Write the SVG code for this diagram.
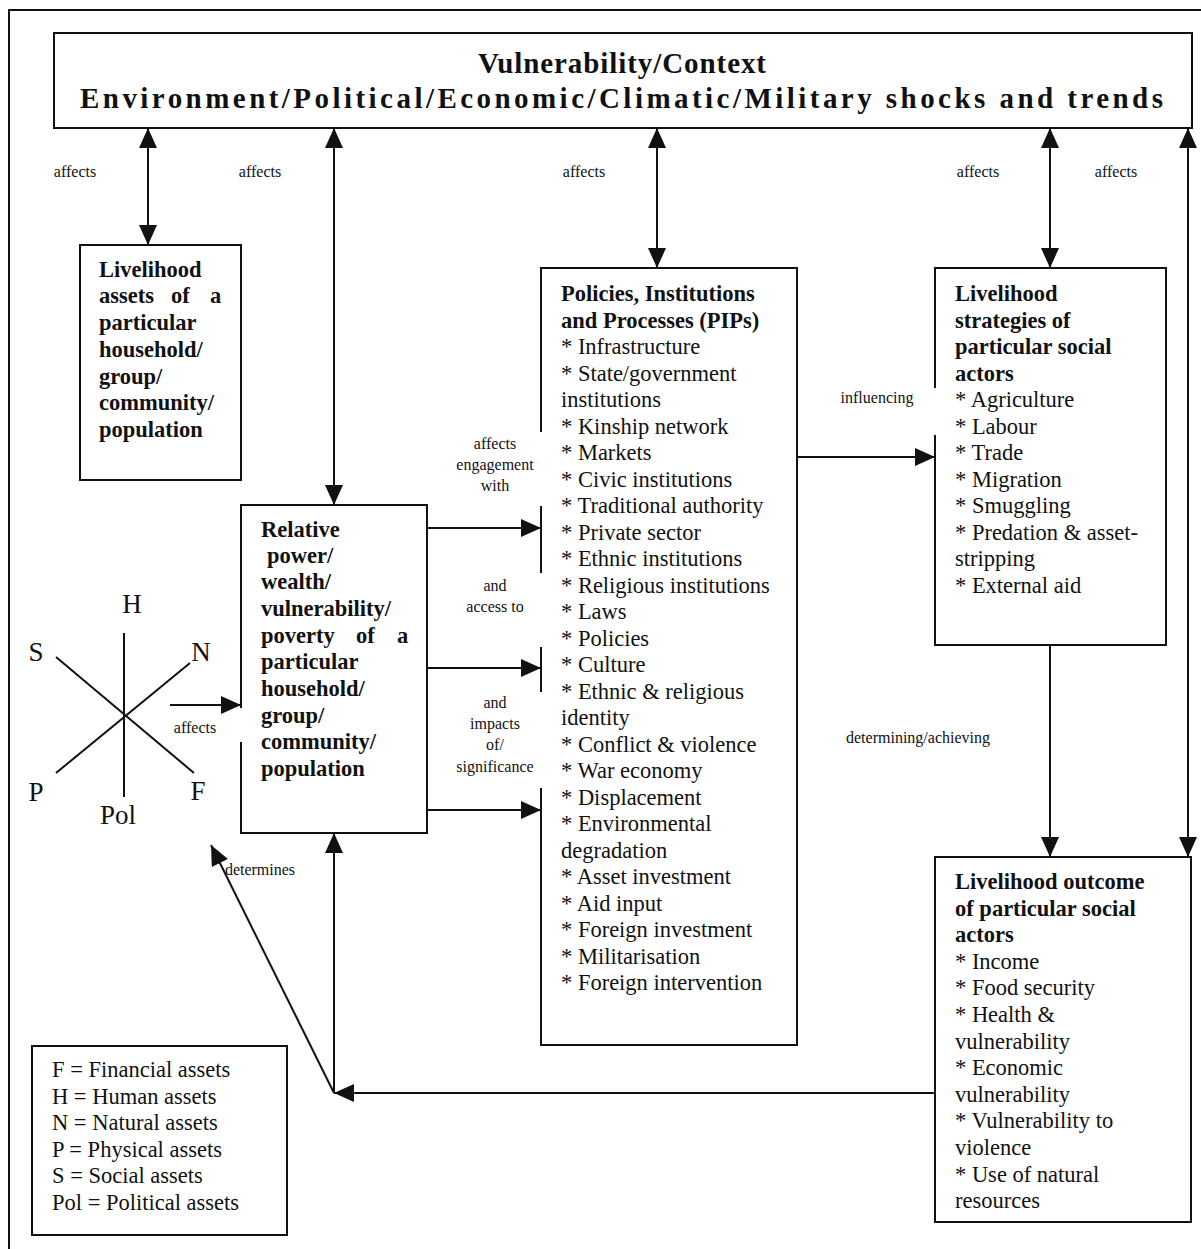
<svg xmlns="http://www.w3.org/2000/svg" width="1201" height="1249" viewBox="0 0 1201 1249">
<style>
  .box { fill: none; stroke: #111; stroke-width: 2; }
  .ln { fill: none; stroke: #111; stroke-width: 2; }
  .t { font-family: "Liberation Serif", "Times New Roman", serif; font-size: 22.5px; fill: #111; }
  .b { font-weight: bold; }
  .lbl { font-family: "Liberation Serif", "Times New Roman", serif; font-size: 16px; fill: #111; text-anchor: middle; }
  .star { font-family: "Liberation Serif", "Times New Roman", serif; font-size: 27px; fill: #111; text-anchor: middle; }
  .title { font-family: "Liberation Serif", "Times New Roman", serif; font-size: 29px; font-weight: bold; fill: #111; }
</style>
<defs>
  <marker id="ah" markerUnits="userSpaceOnUse" markerWidth="20" markerHeight="18" refX="20" refY="9" orient="auto-start-reverse">
    <path d="M0,0 L20,9 L0,18 Z" fill="#111"/>
  </marker>
</defs>
<rect width="1201" height="1249" fill="#fff"/>
<path class="ln" d="M9,1249 V10 H1201"/>

<g id="context">
  <rect class="box" x="54" y="33" width="1138" height="95"/>
  <text class="title" x="478" y="73" textLength="288" lengthAdjust="spacing">Vulnerability/Context</text>
  <text class="title" x="80" y="108" textLength="1083" lengthAdjust="spacing">Environment/Political/Economic/Climatic/Military shocks and trends</text>
</g>

<g id="assets">
  <rect class="box" x="80" y="245" width="161" height="235"/>
  <text class="t b" x="99" y="277">Livelihood</text>
  <text class="t b" y="303"><tspan x="99">assets</tspan><tspan x="171">of</tspan><tspan x="210">a</tspan></text>
  <text class="t b" x="99" y="330">particular</text>
  <text class="t b" x="99" y="357">household/</text>
  <text class="t b" x="99" y="384">group/</text>
  <text class="t b" x="99" y="410">community/</text>
  <text class="t b" x="99" y="437">population</text>
</g>

<g id="relative">
  <path class="box" d="M241,708 V505 H427 V833 H241 V742"/>
  <text class="t b" x="261" y="537">Relative</text>
  <text class="t b" x="267" y="563">power/</text>
  <text class="t b" x="261" y="589">wealth/</text>
  <text class="t b" x="261" y="616">vulnerability/</text>
  <text class="t b" y="643"><tspan x="261">poverty</tspan><tspan x="356">of</tspan><tspan x="397">a</tspan></text>
  <text class="t b" x="261" y="669">particular</text>
  <text class="t b" x="261" y="696">household/</text>
  <text class="t b" x="261" y="723">group/</text>
  <text class="t b" x="261" y="749">community/</text>
  <text class="t b" x="261" y="776">population</text>
</g>

<g id="pips">
  <path class="box" d="M541,432 V268 H797 V1045 H541 V788 M541,506 V573 M541,647 V692"/>
  <text class="t b" x="561" y="301">Policies, Institutions</text>
  <text class="t b" x="561" y="327.5">and Processes (PIPs)</text>
  <text class="t" x="561" y="354">* Infrastructure</text>
  <text class="t" x="561" y="380.5">* State/government</text>
  <text class="t" x="561" y="407">institutions</text>
  <text class="t" x="561" y="433.5">* Kinship network</text>
  <text class="t" x="561" y="460">* Markets</text>
  <text class="t" x="561" y="486.5">* Civic institutions</text>
  <text class="t" x="561" y="513">* Traditional authority</text>
  <text class="t" x="561" y="539.5">* Private sector</text>
  <text class="t" x="561" y="566">* Ethnic institutions</text>
  <text class="t" x="561" y="592.5">* Religious institutions</text>
  <text class="t" x="561" y="619">* Laws</text>
  <text class="t" x="561" y="645.5">* Policies</text>
  <text class="t" x="561" y="672">* Culture</text>
  <text class="t" x="561" y="698.5">* Ethnic &amp; religious</text>
  <text class="t" x="561" y="725">identity</text>
  <text class="t" x="561" y="751.5">* Conflict &amp; violence</text>
  <text class="t" x="561" y="778">* War economy</text>
  <text class="t" x="561" y="804.5">* Displacement</text>
  <text class="t" x="561" y="831">* Environmental</text>
  <text class="t" x="561" y="857.5">degradation</text>
  <text class="t" x="561" y="884">* Asset investment</text>
  <text class="t" x="561" y="910.5">* Aid input</text>
  <text class="t" x="561" y="937">* Foreign investment</text>
  <text class="t" x="561" y="963.5">* Militarisation</text>
  <text class="t" x="561" y="990">* Foreign intervention</text>
</g>

<g id="strategies">
  <path class="box" d="M935,388 V268 H1166 V645 H935 V435"/>
  <text class="t b" x="955" y="301">Livelihood</text>
  <text class="t b" x="955" y="327.5">strategies of</text>
  <text class="t b" x="955" y="354">particular social</text>
  <text class="t b" x="955" y="380.5">actors</text>
  <text class="t" x="955" y="407">* Agriculture</text>
  <text class="t" x="955" y="433.5">* Labour</text>
  <text class="t" x="955" y="460">* Trade</text>
  <text class="t" x="955" y="486.5">* Migration</text>
  <text class="t" x="955" y="513">* Smuggling</text>
  <text class="t" x="955" y="539.5">* Predation &amp; asset-</text>
  <text class="t" x="955" y="566">stripping</text>
  <text class="t" x="955" y="592.5">* External aid</text>
</g>

<g id="outcome">
  <rect class="box" x="935" y="857" width="256" height="365"/>
  <text class="t b" x="955" y="889">Livelihood outcome</text>
  <text class="t b" x="955" y="915.6">of particular social</text>
  <text class="t b" x="955" y="942.2">actors</text>
  <text class="t" x="955" y="968.8">* Income</text>
  <text class="t" x="955" y="995.4">* Food security</text>
  <text class="t" x="955" y="1022">* Health &amp;</text>
  <text class="t" x="955" y="1048.6">vulnerability</text>
  <text class="t" x="955" y="1075.2">* Economic</text>
  <text class="t" x="955" y="1101.8">vulnerability</text>
  <text class="t" x="955" y="1128.4">* Vulnerability to</text>
  <text class="t" x="955" y="1155">violence</text>
  <text class="t" x="955" y="1181.6">* Use of natural</text>
  <text class="t" x="955" y="1208.2">resources</text>
</g>

<g id="asset-star">
  <path class="ln" d="M124,633 V797 M56,657 L194,773 M56,773 L190,663"/>
  <text class="star" x="132" y="613">H</text>
  <text class="star" x="36" y="661">S</text>
  <text class="star" x="201" y="661">N</text>
  <text class="star" x="36" y="801">P</text>
  <text class="star" x="118" y="824">Pol</text>
  <text class="star" x="198" y="800">F</text>
</g>

<g id="legend">
  <rect class="box" x="32" y="1046" width="255" height="189"/>
  <text class="t" x="52" y="1077">F = Financial assets</text>
  <text class="t" x="52" y="1103.6">H = Human assets</text>
  <text class="t" x="52" y="1130.2">N = Natural assets</text>
  <text class="t" x="52" y="1156.8">P = Physical assets</text>
  <text class="t" x="52" y="1183.4">S = Social assets</text>
  <text class="t" x="52" y="1210">Pol = Political assets</text>
</g>

<g id="connectors">
  <line class="ln" x1="148" y1="128" x2="148" y2="245" marker-start="url(#ah)" marker-end="url(#ah)"/>
  <line class="ln" x1="334" y1="128" x2="334" y2="505" marker-start="url(#ah)" marker-end="url(#ah)"/>
  <line class="ln" x1="657" y1="128" x2="657" y2="268" marker-start="url(#ah)" marker-end="url(#ah)"/>
  <line class="ln" x1="1050" y1="128" x2="1050" y2="268" marker-start="url(#ah)" marker-end="url(#ah)"/>
  <line class="ln" x1="1188" y1="128" x2="1188" y2="857" marker-start="url(#ah)" marker-end="url(#ah)"/>
  <line class="ln" x1="170" y1="705" x2="241" y2="705" marker-end="url(#ah)"/>
  <line class="ln" x1="427" y1="528" x2="541" y2="528" marker-end="url(#ah)"/>
  <line class="ln" x1="427" y1="668" x2="541" y2="668" marker-end="url(#ah)"/>
  <line class="ln" x1="427" y1="810" x2="541" y2="810" marker-end="url(#ah)"/>
  <line class="ln" x1="797" y1="457" x2="935" y2="457" marker-end="url(#ah)"/>
  <line class="ln" x1="1050" y1="645" x2="1050" y2="857" marker-end="url(#ah)"/>
  <line class="ln" x1="935" y1="1093" x2="334" y2="1093" marker-end="url(#ah)"/>
  <line class="ln" x1="334" y1="1093" x2="334" y2="833" marker-end="url(#ah)"/>
  <line class="ln" x1="334" y1="1093" x2="211" y2="845" marker-end="url(#ah)"/>
  <g id="connector-labels">
    <text class="lbl" x="75" y="177">affects</text>
    <text class="lbl" x="260" y="177">affects</text>
    <text class="lbl" x="584" y="177">affects</text>
    <text class="lbl" x="978" y="177">affects</text>
    <text class="lbl" x="1116" y="177">affects</text>
    <text class="lbl" x="195" y="733">affects</text>
    <text class="lbl" x="495" y="449">affects</text>
    <text class="lbl" x="495" y="470">engagement</text>
    <text class="lbl" x="495" y="491">with</text>
    <text class="lbl" x="495" y="591">and</text>
    <text class="lbl" x="495" y="612">access to</text>
    <text class="lbl" x="495" y="708">and</text>
    <text class="lbl" x="495" y="729">impacts</text>
    <text class="lbl" x="495" y="750">of/</text>
    <text class="lbl" x="495" y="772">significance</text>
    <text class="lbl" x="877" y="403">influencing</text>
    <text class="lbl" x="918" y="743">determining/achieving</text>
    <text class="lbl" x="260" y="875">determines</text>
  </g>
</g>
</svg>
